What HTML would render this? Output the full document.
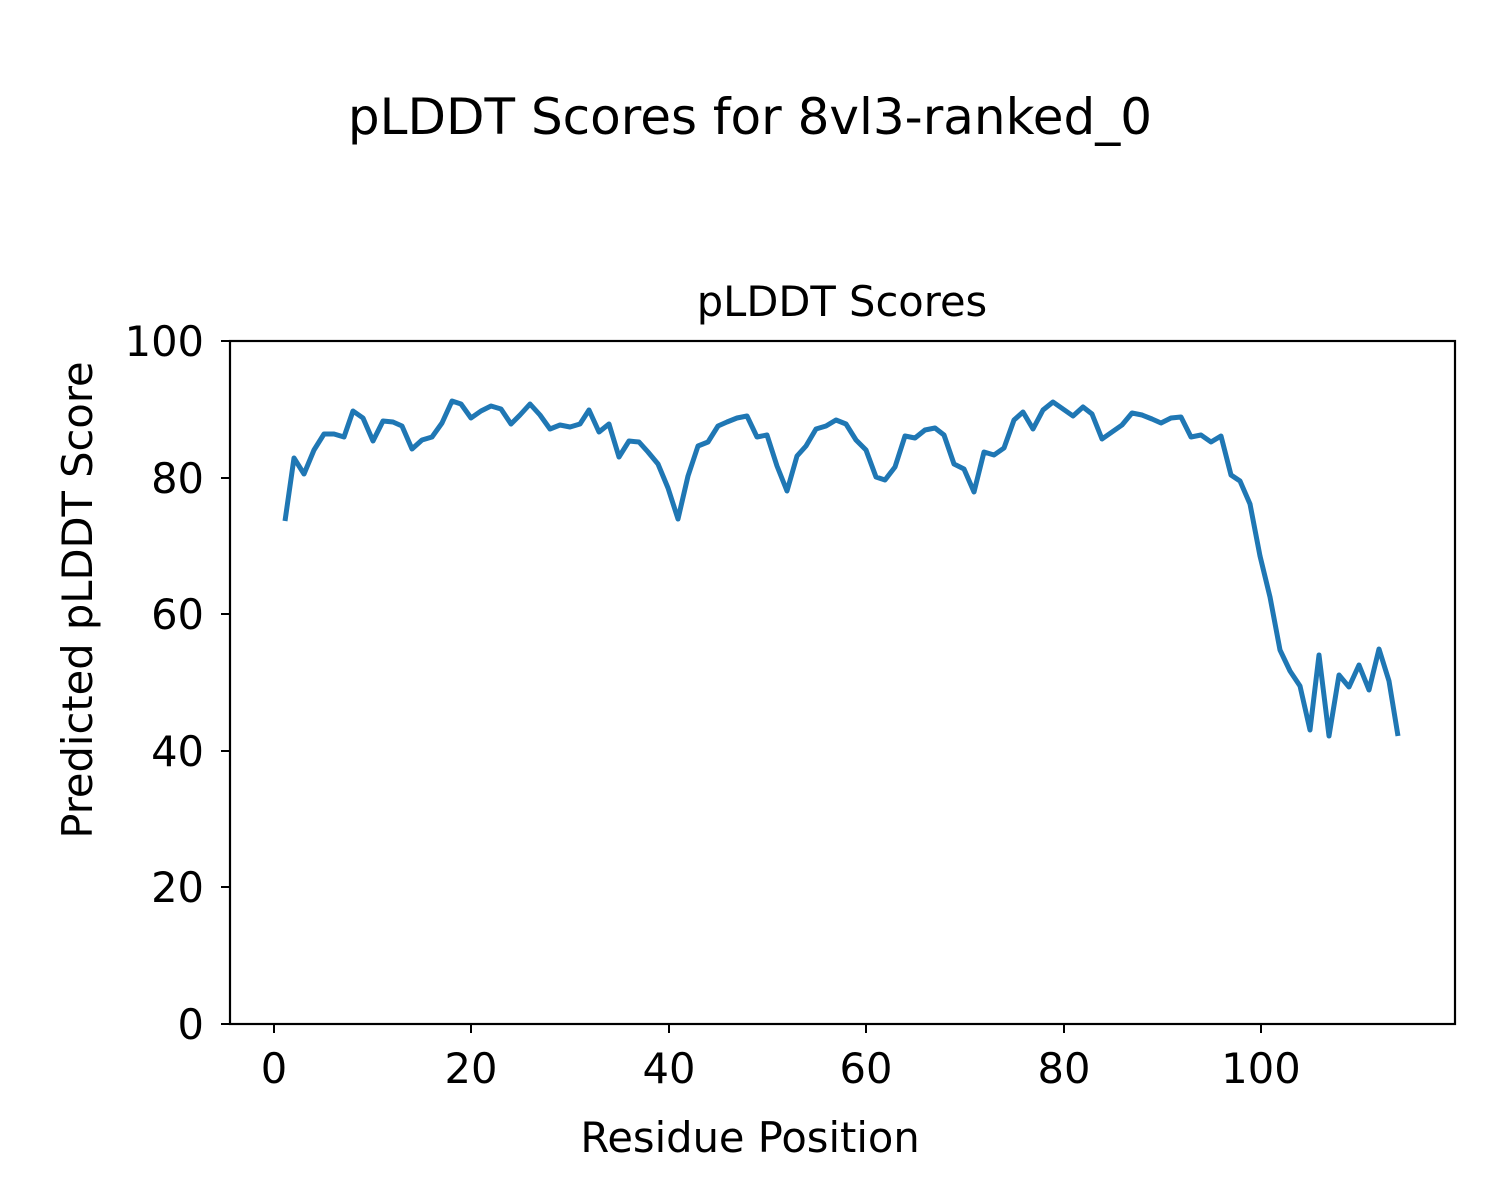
<!DOCTYPE html>
<html><head><meta charset="utf-8"><style>body{margin:0;background:#fff}svg{display:block}text{font-family:"DejaVu Sans","Liberation Sans",sans-serif;fill:#000}</style></head>
<body>
<svg width="1500" height="1200" viewBox="0 0 1500 1200" xmlns="http://www.w3.org/2000/svg">
<rect width="1500" height="1200" fill="#fff"/>
<text x="750" y="134" font-size="50" text-anchor="middle">pLDDT Scores for 8vl3-ranked_0</text>
<text x="842" y="316" font-size="41.6" text-anchor="middle">pLDDT Scores</text>
<polyline fill="none" stroke="#1f77b4" stroke-width="5" stroke-linejoin="round" points="285,521 294,458 304,474 314,450 324,434 334,434 344,437 353,411 363,418 373,441 383,421 393,422 402,426 412,449 422,440 432,437 442,423 452,401 461,404 471,418 481,411 491,406 501,409 511,424 520,415 530,404 540,415 550,429 560,425 570,427 580,424 589,410 599,432 609,424 619,457 629,441 639,442 648,452 658,464 668,488 678,519 688,476 698,446 708,442 718,426 727,422 737,418 747,416 757,437 767,435 777,466 787,491 797,456 806,446 816,429 826,426 836,420 846,424 856,440 866,450 876,477 885,480 895,467 905,436 915,438 925,430 935,428 944,435 954,464 964,469 974,492 984,452 994,455 1004,448 1014,420 1023,412 1033,429 1043,410 1053,402 1063,409 1073,416 1083,407 1092,414 1102,439 1112,432 1122,425 1132,413 1142,415 1152,419 1161,423 1171,418 1181,417 1191,437 1201,435 1211,442 1221,436 1231,475 1240,481 1250,504 1260,556 1270,597 1280,650 1290,671 1300,686 1310,730 1319,655 1329,736 1339,675 1349,687 1359,665 1369,690 1379,649 1389,681 1398,736"/>
<rect x="230" y="341" width="1225" height="683" fill="none" stroke="#000" stroke-width="2.2"/>
<g stroke="#000" stroke-width="2">
<line x1="274" y1="1024" x2="274" y2="1033"/><line x1="471" y1="1024" x2="471" y2="1033"/><line x1="669" y1="1024" x2="669" y2="1033"/><line x1="866" y1="1024" x2="866" y2="1033"/><line x1="1064" y1="1024" x2="1064" y2="1033"/><line x1="1261" y1="1024" x2="1261" y2="1033"/>
<line x1="221" y1="1024" x2="230" y2="1024"/><line x1="221" y1="887" x2="230" y2="887"/><line x1="221" y1="751" x2="230" y2="751"/><line x1="221" y1="614" x2="230" y2="614"/><line x1="221" y1="478" x2="230" y2="478"/><line x1="221" y1="341" x2="230" y2="341"/>
</g>
<g font-size="41.6" text-anchor="middle">
<text x="274" y="1083">0</text><text x="471" y="1083">20</text><text x="669" y="1083">40</text><text x="866" y="1083">60</text><text x="1064" y="1083">80</text><text x="1261" y="1083">100</text>
</g>
<g font-size="41.6" text-anchor="end">
<text x="204" y="1039">0</text><text x="204" y="902">20</text><text x="204" y="766">40</text><text x="204" y="629">60</text><text x="204" y="493">80</text><text x="204" y="356">100</text>
</g>
<text x="750" y="1152" font-size="41.6" text-anchor="middle">Residue Position</text>
<text transform="translate(92,600) rotate(-90)" font-size="41.6" text-anchor="middle">Predicted pLDDT Score</text>
</svg>
</body></html>
